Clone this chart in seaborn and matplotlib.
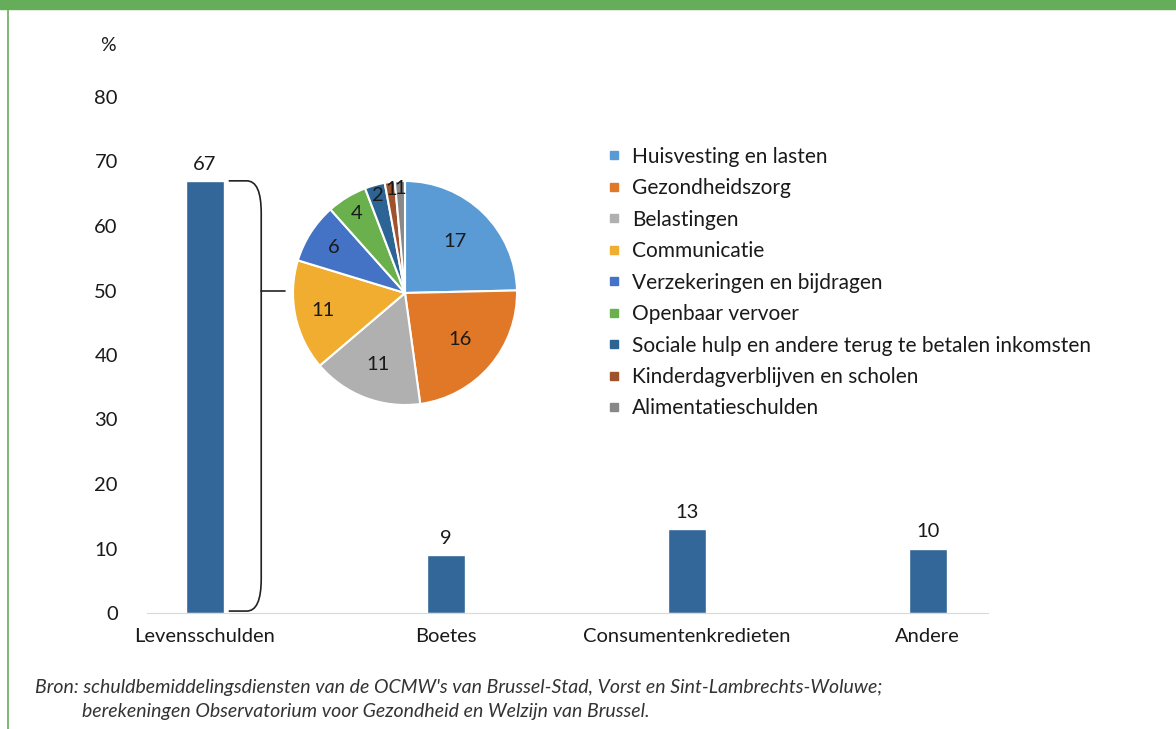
import matplotlib
matplotlib.use("Agg")
import matplotlib.pyplot as plt
from matplotlib.lines import Line2D
from matplotlib.patches import Rectangle, PathPatch
from matplotlib.path import Path
import numpy as np
import seaborn as sns
import pandas as pd

# Main bars: share of debts by type (%)
categories = ["Levensschulden", "Boetes", "Consumentenkredieten", "Andere"]
shares = [67, 9, 13, 10]

# Breakdown of "Levensschulden"
sub_labels = ["Huisvesting en lasten", "Gezondheidszorg", "Belastingen", "Communicatie",
              "Verzekeringen en bijdragen", "Openbaar vervoer",
              "Sociale hulp en andere terug te betalen inkomsten",
              "Kinderdagverblijven en scholen", "Alimentatieschulden"]
sub_values = [17, 16, 11, 11, 6, 4, 2, 1, 1]
sub_colors = ["#5b9bd5", "#e07828", "#b0b0b0", "#f0ad30", "#4472c4",
              "#6ab04c", "#2d6496", "#a0522d", "#888888"]

source_1 = "Bron: schuldbemiddelingsdiensten van de OCMW's van Brussel-Stad, Vorst en Sint-Lambrechts-Woluwe;"
source_2 = "berekeningen Observatorium voor Gezondheid en Welzijn van Brussel."

sns.set_style("white")
plt.rcParams["font.family"] = ["Lato", "DejaVu Sans"]
txt_color = "#1a1a1a"

fig = plt.figure(figsize=(11.76, 7.29), dpi=100)

# green frame on top and left
fig.patches.append(Rectangle((0, 1 - 9 / 729), 1, 9 / 729, transform=fig.transFigure,
                             color="#66ad5a", zorder=0))
fig.lines.append(Line2D([7.5 / 1176, 7.5 / 1176], [0, 1], transform=fig.transFigure,
                        color="#66ad5a", lw=1.2))

ax = fig.add_axes([147 / 1176, 116 / 729, 841 / 1176, 516 / 729])
df = pd.DataFrame({"cat": categories, "val": shares})
sns.barplot(data=df, x="cat", y="val", color="#336699", width=0.158, saturation=1, ax=ax)
ax.set_xlim(-0.24, 3.25)
ax.set_ylim(0, 80)
ax.set_yticks(range(0, 81, 10))
ax.set_xlabel("")
ax.set_ylabel("")
for s in ["top", "right", "left"]:
    ax.spines[s].set_visible(False)
ax.spines["bottom"].set_color("#d9d9d9")
ax.tick_params(axis="both", length=0, labelsize=14.5, colors=txt_color)
ax.tick_params(axis="y", pad=21)
ax.tick_params(axis="x", pad=11)
ax.text(-0.046, 1.10, "%", transform=ax.transAxes, fontsize=14, color=txt_color,
        ha="center", va="center")

for i, v in enumerate(shares):
    ax.annotate(str(v), (i, v), xytext=(0, 6), textcoords="offset points",
                ha="center", va="bottom", fontsize=14.5, color=txt_color)

# bracket next to the first bar
x0 = 0 + 0.158 / 2 + 0.02
x1 = x0 + 0.135
r_x = 0.06
r_y = 5
top, bot = shares[0], 0.3
mid = 49.9
verts = [(x0, top), (x1 - r_x, top), (x1, top), (x1, top - r_y),
         (x1, bot + r_y), (x1, bot), (x1 - r_x, bot), (x0, bot)]
codes = [Path.MOVETO, Path.LINETO, Path.CURVE3, Path.CURVE3,
         Path.LINETO, Path.CURVE3, Path.CURVE3, Path.LINETO]
ax.add_patch(PathPatch(Path(verts, codes), fill=False, lw=1.2, color="#222222"))
ax.plot([x1, x1 + 0.1], [mid, mid], color="#222222", lw=1.2)

# pie inset
pax = fig.add_axes([(405 - 112) / 1176, (729 - 293 - 112) / 729, 224 / 1176, 224 / 729])
wedges, _ = pax.pie(sub_values, colors=sub_colors, startangle=90, counterclock=False,
                    wedgeprops=dict(edgecolor="white", linewidth=1.5))
dists = [0.64, 0.64, 0.68, 0.75, 0.76, 0.83, 0.9, 0.93, 0.93]
for w, v, d in zip(wedges, sub_values, dists):
    ang = np.deg2rad((w.theta1 + w.theta2) / 2)
    pax.text(d * np.cos(ang), d * np.sin(ang), str(v), ha="center", va="center",
             fontsize=14.5, color=txt_color)
pax.set_xlim(-1, 1)
pax.set_ylim(-1, 1)
pax.set_aspect("equal")

handles = [Line2D([], [], marker="s", linestyle="", markersize=6, color=c) for c in sub_colors]
fig.legend(handles, sub_labels, loc="upper left", bbox_to_anchor=(587 / 1176, 1 - 128 / 729),
           frameon=False, fontsize=15, handlelength=0.8, handletextpad=0.45,
           labelspacing=0.55, labelcolor=txt_color)

fig.text(35 / 1176, 1 - 688 / 729, source_1, fontsize=14, style="italic", color="#333333",
         ha="left", va="center")
fig.text(82 / 1176, 1 - 711 / 729, source_2, fontsize=14, style="italic", color="#333333",
         ha="left", va="center")

fig.savefig("out.png", dpi=100)
